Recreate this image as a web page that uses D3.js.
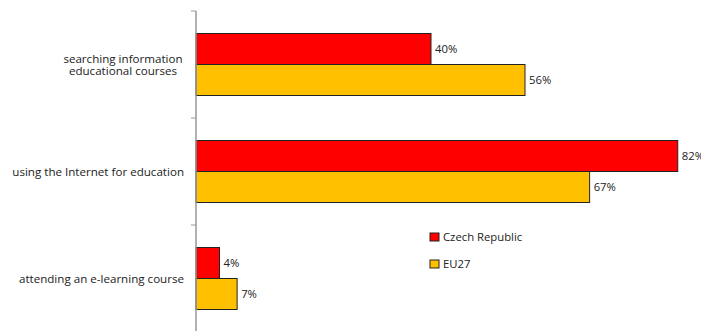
<!DOCTYPE html>
<html>
<head>
<meta charset="utf-8">
<script src="https://cdn.jsdelivr.net/npm/d3@7"></script>
<style>
  body { margin: 0; background: #fff; }
  text { font-family: "Open Sans", "Liberation Sans", sans-serif; fill: #222; }
</style>
</head>
<body>
<div id="container"></div>
<script>
let w = 701;
let h = 331;

// data
let categories = [
  "searching information educational courses",
  "using the Internet for education",
  "attending an e-learning course"
];
let catLines = [
  ["searching information", "educational courses"],
  ["using the Internet for education"],
  ["attending an e-learning course"]
];
let seriesNames = ["Czech Republic", "EU27"];
let czech = [40, 82, 4];
let eu27 = [56, 67, 7];
let colors = ["#FF0000", "#FFC000"];

let axisX = 196;
let plotTop = 11;
let fs = "11.3px";
let catFs = "11.6px";

let viz = d3.select("#container")
  .append("svg")
    .attr("width", w)
    .attr("height", h)
    .style("background-color", "#fff");

let xScale = d3.scaleLinear().domain([0, 40]).range([axisX, 431]);
let yScale = d3.scaleBand().domain(categories).range([plotTop, plotTop + 107 * 3]).paddingInner(0).paddingOuter(0);
let inner = d3.scaleBand().domain(seriesNames).range([0, yScale.bandwidth()]).paddingInner(0).paddingOuter(0.726);

let rows = categories.map(function(c, i){
  return {cat: c, values: [czech[i], eu27[i]], lines: catLines[i]};
});

let groups = viz.selectAll(".grp").data(rows).enter()
  .append("g")
    .attr("class", "grp")
    .attr("transform", d => "translate(0," + yScale(d.cat) + ")");

groups.selectAll("rect").data(d => d.values.map((v, j) => ({v: v, s: seriesNames[j], j: j}))).enter()
  .append("rect")
    .attr("x", axisX)
    .attr("y", d => inner(d.s))
    .attr("width", d => xScale(d.v) - axisX)
    .attr("height", inner.bandwidth())
    .attr("fill", d => colors[d.j])
    .attr("stroke", "#222")
    .attr("stroke-width", 1);

groups.selectAll(".val").data(d => d.values.map((v, j) => ({v: v, s: seriesNames[j]}))).enter()
  .append("text")
    .attr("class", "val")
    .attr("x", d => xScale(d.v) + 4)
    .attr("y", d => inner(d.s) + inner.bandwidth() / 2 + 0.5)
    .attr("dy", "0.35em")
    .style("font-size", fs)
    .text(d => d.v + "%");

// category labels
groups.each(function(d){
  let g = d3.select(this);
  let mid = yScale.bandwidth() / 2;
  if (d.lines.length == 1) {
    g.append("text")
      .attr("x", 184)
      .attr("y", mid)
      .attr("dy", "0.35em")
      .attr("text-anchor", "end")
      .style("font-size", catFs)
      .text(d.lines[0]);
  } else {
    d.lines.forEach(function(l, k){
      g.append("text")
        .attr("x", 123)
        .attr("y", mid - 6 + k * 12.5)
        .attr("dy", "0.35em")
        .attr("text-anchor", "middle")
        .style("font-size", catFs)
        .text(l);
    });
  }
});

// axis
viz.append("line")
  .attr("x1", axisX).attr("x2", axisX)
  .attr("y1", plotTop).attr("y2", h)
  .attr("stroke", "#999").attr("stroke-width", 1.5);
let tickYs = categories.map(c => yScale(c));
viz.selectAll(".tick").data(tickYs).enter()
  .append("line")
    .attr("class", "tick")
    .attr("x1", axisX - 5).attr("x2", axisX)
    .attr("y1", d => d).attr("y2", d => d)
    .attr("stroke", "#999").attr("stroke-width", 1);

// legend
let legend = viz.append("g").attr("transform", "translate(430,233)");
seriesNames.forEach(function(s, i){
  let lg = legend.append("g").attr("transform", "translate(0," + (i * 27) + ")");
  lg.append("rect")
    .attr("x", 0).attr("y", 0)
    .attr("width", 9).attr("height", 8)
    .attr("fill", colors[i])
    .attr("stroke", "#222");
  lg.append("text")
    .attr("x", 13).attr("y", 4)
    .attr("dy", "0.35em")
    .style("font-size", fs)
    .text(s);
});
</script>
</body>
</html>
